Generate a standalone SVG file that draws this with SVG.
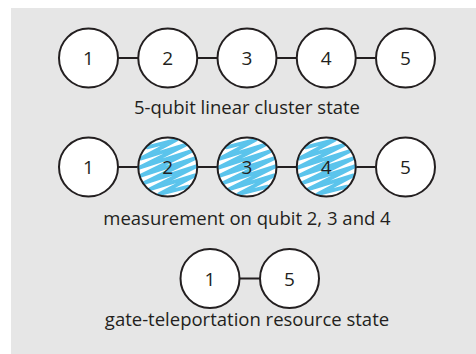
<svg xmlns="http://www.w3.org/2000/svg" xmlns:xlink="http://www.w3.org/1999/xlink" width="476" height="354" viewBox="0 0 476 354">
<style>
.bg{fill:#e6e6e6}
.node{fill:#ffffff}
.ring{fill:none;stroke:#231f20;stroke-width:2}
.edge{stroke:#231f20;stroke-width:2;fill:none}
.num{font-family:"Open Sans","Noto Sans",sans-serif;font-size:19px;fill:#231f20;text-anchor:middle}
.cap{font-family:"Open Sans","Noto Sans",sans-serif;font-size:18.5px;fill:#231f20;text-anchor:middle}
.scr{fill:none;stroke:#5bc4ec;stroke-width:3.8;stroke-linejoin:round;stroke-linecap:round}
</style>
<defs>
<path id="scribble" class="scr" d="M-20.6,-19.7 L8.6,-27.2 L-27.2,-8.4 L17.8,-22.3 L-28.5,0.7 L23.6,-16 L-27.1,8.8 L27.1,-8.8 L-23.6,16 L28.5,-0.7 L-17.8,22.3 L27.2,8.4 L-8.6,27.2 L20.6,19.7"/>
</defs>
<rect class="bg" x="11" y="8" width="465" height="346"/>
<g id="connectors">
<line class="edge" x1="118" y1="58" x2="138" y2="58"/>
<line class="edge" x1="197" y1="58" x2="217" y2="58"/>
<line class="edge" x1="276" y1="58" x2="296" y2="58"/>
<line class="edge" x1="355" y1="58" x2="375" y2="58"/>
<line class="edge" x1="118" y1="167" x2="138" y2="167"/>
<line class="edge" x1="197" y1="167" x2="217" y2="167"/>
<line class="edge" x1="276" y1="167" x2="296" y2="167"/>
<line class="edge" x1="355" y1="167" x2="375" y2="167"/>
<line class="edge" x1="239" y1="278.5" x2="260" y2="278.5"/>
</g>
<g id="r1n1"><circle class="node" cx="88.5" cy="58" r="29.5"/><circle class="ring" cx="88.5" cy="58" r="29.5"/><text class="num" x="88.5" y="65">1</text></g>
<g id="r1n2"><circle class="node" cx="167.75" cy="58" r="29.5"/><circle class="ring" cx="167.75" cy="58" r="29.5"/><text class="num" x="167.75" y="65">2</text></g>
<g id="r1n3"><circle class="node" cx="247" cy="58" r="29.5"/><circle class="ring" cx="247" cy="58" r="29.5"/><text class="num" x="247" y="65">3</text></g>
<g id="r1n4"><circle class="node" cx="326.25" cy="58" r="29.5"/><circle class="ring" cx="326.25" cy="58" r="29.5"/><text class="num" x="326.25" y="65">4</text></g>
<g id="r1n5"><circle class="node" cx="405.5" cy="58" r="29.5"/><circle class="ring" cx="405.5" cy="58" r="29.5"/><text class="num" x="405.5" y="65">5</text></g>
<text id="cap1" class="cap" x="247" y="114">5-qubit linear cluster state</text>
<g id="r2n1"><circle class="node" cx="88.5" cy="167" r="29.5"/><circle class="ring" cx="88.5" cy="167" r="29.5"/><text class="num" x="88.5" y="174">1</text></g>
<g id="r2n2"><circle class="node" cx="167.75" cy="167" r="29.5"/><use xlink:href="#scribble" x="167.75" y="167"/><circle class="ring" cx="167.75" cy="167" r="29.5"/><text class="num" x="167.75" y="174">2</text></g>
<g id="r2n3"><circle class="node" cx="247" cy="167" r="29.5"/><use xlink:href="#scribble" x="247" y="167"/><circle class="ring" cx="247" cy="167" r="29.5"/><text class="num" x="247" y="174">3</text></g>
<g id="r2n4"><circle class="node" cx="326.25" cy="167" r="29.5"/><use xlink:href="#scribble" x="326.25" y="167"/><circle class="ring" cx="326.25" cy="167" r="29.5"/><text class="num" x="326.25" y="174">4</text></g>
<g id="r2n5"><circle class="node" cx="405.5" cy="167" r="29.5"/><circle class="ring" cx="405.5" cy="167" r="29.5"/><text class="num" x="405.5" y="174">5</text></g>
<text id="cap2" class="cap" x="247" y="225">measurement on qubit 2, 3 and 4</text>
<g id="r3n1"><circle class="node" cx="210" cy="278.5" r="29.5"/><circle class="ring" cx="210" cy="278.5" r="29.5"/><text class="num" x="210" y="285.5">1</text></g>
<g id="r3n5"><circle class="node" cx="289.5" cy="278.5" r="29.5"/><circle class="ring" cx="289.5" cy="278.5" r="29.5"/><text class="num" x="289.5" y="285.5">5</text></g>
<text id="cap3" class="cap" x="247" y="326">gate-teleportation resource state</text>
</svg>
